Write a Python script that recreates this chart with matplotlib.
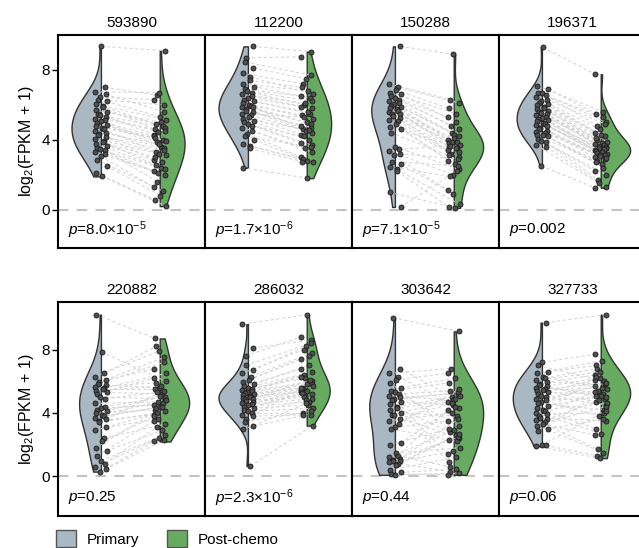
import numpy as np
import matplotlib
matplotlib.use('Agg')
import matplotlib.pyplot as plt
from matplotlib.patches import Patch

plt.rcParams['font.family'] = ['Liberation Sans', 'DejaVu Sans']
plt.rcParams['font.size'] = 11
plt.rcParams['mathtext.fontset'] = 'custom'
plt.rcParams['mathtext.rm'] = 'Liberation Sans'
plt.rcParams['mathtext.it'] = 'Liberation Sans:italic'

genes = ['593890', '112200', '150288', '196371',
         '220882', '286032', '303642', '327733']
p_labels = [r'$p$=8.0×10$^{-5}$', r'$p$=1.7×10$^{-6}$', r'$p$=7.1×10$^{-5}$',
            r'$p$=0.002', r'$p$=0.25', r'$p$=2.3×10$^{-6}$', r'$p$=0.44',
            r'$p$=0.06']

# log2(FPKM + 1), paired samples: primary[k][i] <-> post_chemo[k][i]
primary = [
    [9.35, 7.0, 6.75, 6.6, 6.45, 6.3, 6.2, 6.05, 5.95, 5.85, 5.7, 5.6, 5.5,
     5.4, 5.3, 5.2, 5.15, 5.05, 4.95, 4.85, 4.8, 4.7, 4.6, 4.5, 4.4, 4.35,
     4.25, 4.15, 4.05, 3.95, 3.85, 3.75, 3.65, 3.55, 3.45, 3.4, 3.3, 3.2,
     3.05, 2.85, 2.5, 2.1, 1.9],
    [9.35, 8.7, 8.45, 8.1, 7.8, 7.6, 7.4, 7.2, 7.05, 6.9, 6.8, 6.7, 6.6,
     6.5, 6.4, 6.3, 6.2, 6.1, 6.0, 5.95, 5.9, 5.85, 5.75, 5.65, 5.6, 5.5,
     5.4, 5.3, 5.2, 5.1, 5.0, 4.9, 4.8, 4.7, 4.5, 4.35, 4.2, 4.0, 3.75,
     3.65, 3.5, 2.4],
    [9.35, 7.2, 7.0, 6.85, 6.7, 6.6, 6.5, 6.4, 6.3, 6.2, 6.1, 6.05, 5.95,
     5.9, 5.8, 5.75, 5.65, 5.6, 5.5, 5.45, 5.35, 5.25, 5.15, 5.05, 4.9,
     4.75, 4.6, 4.4, 3.6, 3.45, 3.35, 3.2, 3.1, 2.75, 2.6, 2.45, 2.3, 2.2,
     1.0, 0.15],
    [9.3, 7.1, 6.9, 6.7, 6.65, 6.55, 6.45, 6.3, 6.2, 6.1, 6.05, 6.0, 5.9,
     5.8, 5.75, 5.65, 5.6, 5.55, 5.5, 5.4, 5.3, 5.25, 5.2, 5.15, 5.05,
     4.95, 4.9, 4.85, 4.8, 4.7, 4.6, 4.5, 4.45, 4.4, 4.3, 4.25, 4.2, 4.05,
     3.95, 3.85, 3.7, 3.6, 2.5],
    [10.2, 7.85, 6.5, 6.3, 6.1, 5.95, 5.85, 5.75, 5.65, 5.55, 5.5, 5.4,
     5.3, 5.2, 5.0, 4.9, 4.6, 4.4, 4.3, 4.2, 4.1, 4.0, 3.9, 3.8, 3.7, 3.6,
     3.5, 3.4, 3.1, 2.9, 2.4, 2.2, 1.8, 1.6, 1.3, 1.0, 0.8, 0.6, 0.45, 0.3],
    [9.6, 8.1, 7.6, 7.0, 6.7, 6.5, 6.3, 6.1, 5.95, 5.8, 5.7, 5.6, 5.5,
     5.45, 5.4, 5.3, 5.25, 5.2, 5.15, 5.1, 5.0, 4.95, 4.9, 4.85, 4.75, 4.7,
     4.6, 4.55, 4.5, 4.4, 4.3, 4.2, 4.1, 4.0, 3.9, 3.8, 3.6, 3.45, 3.2,
     3.0, 0.65],
    [10.0, 6.8, 6.5, 6.3, 6.1, 5.9, 5.6, 5.4, 5.3, 5.2, 5.1, 5.0, 4.9, 4.8,
     4.7, 4.55, 4.4, 4.3, 4.2, 4.0, 3.9, 3.85, 3.65, 3.5, 3.3, 3.1, 3.0,
     2.1, 2.0, 1.45, 1.3, 1.2, 1.1, 1.05, 1.0, 0.95, 0.9, 0.8, 0.7, 0.4,
     0.25, 0.15, 0.1],
    [9.7, 7.2, 7.0, 6.6, 6.5, 6.3, 6.2, 6.05, 5.95, 5.85, 5.75, 5.7, 5.6,
     5.5, 5.45, 5.4, 5.3, 5.2, 5.1, 5.0, 4.9, 4.8, 4.7, 4.6, 4.45, 4.3,
     4.2, 4.1, 4.0, 3.95, 3.8, 3.7, 3.6, 3.55, 3.4, 3.3, 3.2, 3.0, 2.85,
     2.0, 1.95, 1.9],
]
post_chemo = [
    [9.1, 6.55, 6.7, 5.6, 6.3, 6.0, 5.3, 4.9, 5.15, 4.6, 5.0, 4.8, 4.3, 4.7,
     4.45, 3.85, 4.5, 4.2, 4.0, 3.6, 4.1, 3.95, 3.3, 3.75, 3.5, 2.85, 3.4,
     3.2, 2.55, 3.1, 3.0, 2.4, 2.7, 2.2, 2.3, 1.6, 2.1, 2.0, 1.3, 1.05,
     0.8, 0.55, 0.2],
    [9.05, 8.75, 7.7, 7.5, 7.2, 6.6, 7.0, 6.8, 6.4, 6.5, 6.2, 6.0, 6.1, 5.8,
     5.9, 5.5, 5.6, 5.4, 5.2, 4.6, 5.0, 4.9, 4.8, 4.7, 4.5, 5.3, 4.4, 4.3,
     4.0, 4.55, 3.8, 3.7, 4.2, 3.5, 3.3, 3.0, 3.6, 2.8, 2.9, 2.7, 2.75,
     1.8],
    [8.9, 6.3, 6.1, 5.8, 5.5, 5.0, 5.3, 4.6, 4.8, 4.4, 4.2, 4.0, 3.9, 4.3,
     3.8, 3.7, 3.6, 4.1, 3.5, 3.4, 3.3, 3.9, 3.2, 3.0, 2.8, 3.55, 2.6, 3.1,
     2.3, 3.65, 2.0, 2.9, 1.1, 2.5, 0.9, 1.9, 0.3, 0.15, 0.1, 2.2],
    [7.75, 5.6, 5.3, 5.45, 5.0, 4.8, 4.6, 4.9, 4.4, 4.2, 4.3, 4.0, 3.9, 4.1,
     3.8, 3.7, 3.75, 3.6, 3.65, 3.5, 3.55, 3.4, 3.45, 3.3, 3.35, 3.2, 3.25,
     3.1, 3.15, 3.0, 2.9, 3.05, 2.8, 2.95, 2.7, 2.6, 2.4, 2.2, 2.0, 1.7,
     1.5, 1.3, 1.25],
    [8.7, 6.0, 8.2, 7.9, 7.5, 6.8, 7.2, 5.6, 5.9, 6.5, 5.5, 5.7, 5.2, 6.2,
     4.9, 5.3, 4.7, 5.0, 4.5, 4.6, 5.1, 4.2, 4.8, 4.3, 4.4, 5.4, 3.9, 4.1,
     3.6, 4.0, 3.3, 3.8, 4.35, 2.9, 3.5, 2.6, 3.1, 2.4, 2.3, 2.2],
    [10.2, 8.6, 8.8, 8.4, 8.2, 8.0, 7.8, 7.4, 7.6, 7.0, 6.8, 6.6, 6.4, 6.2,
     6.0, 6.3, 5.9, 5.8, 5.6, 5.7, 5.5, 5.4, 6.1, 5.3, 5.2, 5.1, 5.0, 4.9,
     5.45, 4.7, 4.5, 5.25, 4.3, 4.0, 4.8, 3.9, 5.55, 4.1, 4.6, 3.85, 3.2],
    [9.15, 5.0, 6.8, 4.3, 6.5, 2.6, 6.2, 5.9, 3.2, 5.4, 4.8, 5.2, 1.4, 5.3,
     4.5, 2.8, 5.1, 0.9, 4.9, 3.8, 4.7, 2.4, 4.6, 4.0, 5.5, 3.5, 2.2, 4.4,
     3.0, 1.8, 0.6, 2.9, 3.6, 4.2, 2.5, 1.6, 0.3, 2.7, 2.3, 1.2, 0.45, 0.1,
     0.2],
    [10.2, 7.7, 6.0, 7.3, 7.0, 5.5, 6.8, 6.6, 5.8, 6.4, 4.9, 6.2, 5.3, 5.9,
     4.7, 5.6, 5.2, 6.1, 4.5, 5.4, 3.8, 5.0, 5.7, 4.2, 5.1, 3.0, 4.6, 6.3,
     2.7, 4.0, 5.35, 3.5, 4.8, 1.7, 4.4, 2.6, 1.5, 3.6, 5.05, 4.1, 1.3,
     1.15],
]

PRI_COLOR = '#a9b8c2'
POST_COLOR = '#67ab61'
EDGE = '#333333'


def density(vals, adjust=1.5, npts=300):
    """Gaussian KDE (bw.nrd0 * adjust) evaluated over the data range only."""
    v = np.asarray(vals, dtype=float)
    n = len(v)
    q75, q25 = np.percentile(v, [75, 25])
    bw = adjust * 0.9 * min(v.std(ddof=1), (q75 - q25) / 1.34) * n ** -0.2
    grid = np.linspace(v.min(), v.max(), npts)
    z = (grid[:, None] - v[None, :]) / bw
    d = np.exp(-0.5 * z ** 2).sum(axis=1) / (n * bw * np.sqrt(2 * np.pi))
    return grid, d


fig = plt.figure(figsize=(6.39, 5.48), dpi=100)
W, H = 639.0, 548.0
col_x = [58, 205, 352, 499]
rows = [(35, 248, (-2.2, 10.0)), (302, 516, (-2.5, 11.0))]

for k in range(8):
    r, c = divmod(k, 4)
    top, bot, ylim = rows[r]
    ax = fig.add_axes([col_x[c] / W, 1 - bot / H, 147 / W, (bot - top) / H])
    pri = np.asarray(primary[k])
    post = np.asarray(post_chemo[k])

    g0, d0 = density(pri)
    g1, d1 = density(post)
    s = 0.5 / max(d0.max(), d1.max())
    ax.fill_betweenx(g0, -d0 * s, 0, facecolor=PRI_COLOR, edgecolor=EDGE,
                     lw=1.0, zorder=1)
    ax.fill_betweenx(g1, 1, 1 + d1 * s, facecolor=POST_COLOR, edgecolor=EDGE,
                     lw=1.0, zorder=1)

    # fixed jitter pattern around each group's centre line
    x0 = 0.1 * np.sin(np.arange(len(pri)) * 2.399 + k)
    x1 = 1 + 0.1 * np.sin(np.arange(len(post)) * 2.399 + k + 1.3)
    ax.plot(np.vstack([x0, x1]), np.vstack([pri, post]), color='#d4d4d4',
            lw=0.75, ls=(0, (3, 2.5)), zorder=2)
    ax.scatter(x0, pri, s=13, facecolor='#505050', edgecolor='#1a1a1a',
               lw=0.6, zorder=3)
    ax.scatter(x1, post, s=13, facecolor='#505050', edgecolor='#1a1a1a',
               lw=0.6, zorder=3)

    ax.axhline(0, color='#c4c4c4', lw=1.5, ls=(0, (5, 4)), zorder=0)
    ax.set_xlim(-0.73, 1.77)
    ax.set_ylim(*ylim)
    ax.set_xticks([])
    ax.set_title(genes[k], fontsize=11, pad=6)
    ax.text(0.07, 0.085, p_labels[k], transform=ax.transAxes, fontsize=11,
            va='center', ha='left')
    for sp in ax.spines.values():
        sp.set_linewidth(1.5)
    if c == 0:
        ax.set_yticks([0, 4, 8])
        ax.tick_params(axis='y', length=4, width=1, labelsize=11, pad=2)
        ax.set_ylabel(r'log$_2$(FPKM + 1)', fontsize=11.5, labelpad=4)
    else:
        ax.set_yticks([])

handles = [Patch(facecolor=PRI_COLOR, edgecolor='#555555', lw=1, label='Primary'),
           Patch(facecolor=POST_COLOR, edgecolor='#555555', lw=1, label='Post-chemo')]
fig.legend(handles=handles, loc='lower left', bbox_to_anchor=(0.088, 0.002),
           ncol=2, frameon=False, fontsize=11, handlelength=1.3,
           handleheight=1.3, handletextpad=0.7, columnspacing=1.8,
           borderpad=0, borderaxespad=0)

fig.savefig('out.png', dpi=100)
